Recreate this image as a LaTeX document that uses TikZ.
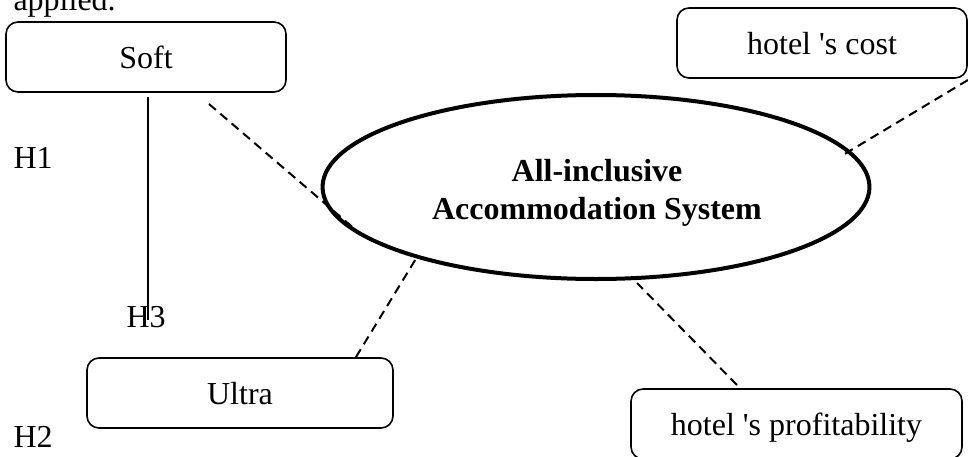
\documentclass[tikz,border=0pt]{standalone}
\usepackage{fontspec}
\setmainfont{Liberation Serif}
\usetikzlibrary{shapes.geometric}
\begin{document}
\begin{tikzpicture}[x=0.375pt, y=-0.375pt,
  font=\fontsize{12}{14.25}\selectfont,
  box/.style={draw, line width=0.6pt, rounded corners=4.5pt, minimum height=26.25pt, inner sep=0pt, text height=8.6pt, text depth=0pt},
  hyp/.style={anchor=base west, inner sep=0pt},
  link/.style={line width=0.75pt, dash pattern=on 3.4pt off 2.2pt}]
\useasboundingbox (0,0) rectangle (968,456);
\node[hyp] (txt) at (13,11){applied.};
\node[box, minimum width=105pt] (soft) at (146,57){Soft};
\node[box, minimum width=108.75pt] (cost) at (822,43){hotel \textquotesingle s cost};
\node[box, minimum width=114.75pt] (ultra) at (240,393){Ultra};
\node[box, minimum width=124.1pt] (profit) at (796.5,424){hotel \textquotesingle s profitability};
\node[ellipse, draw, line width=1.5pt, minimum width=205.1pt, minimum height=69pt, inner sep=0pt] (sys) at (596,187){};
\node[align=center, inner sep=0pt, font=\fontsize{12}{14.25}\selectfont\bfseries] (systxt) at (597,193){All-inclusive\\Accommodation System};
\node[hyp] (h1) at (13,168){H1};
\node[hyp] (h3) at (126,327){H3};
\node[hyp] (h2) at (13,447){H2};
\coordinate (soft0) at (148,97);
\coordinate (soft1) at (148,320);
\draw[line width=0.5pt](soft0) -- (soft1);
\coordinate (s0) at (209,104);
\coordinate (s1) at (357,231);
\draw[link](s0) -- (s1);
\coordinate (u0) at (356,357);
\coordinate (u1) at (417,257);
\draw[link](u0) -- (u1);
\coordinate (p0) at (737,385);
\coordinate (p1) at (637,283);
\draw[link](p0) -- (p1);
\coordinate (c0) at (968,80);
\coordinate (c1) at (843,155);
\draw[link](c0) -- (c1);
\end{tikzpicture}
\end{document}
